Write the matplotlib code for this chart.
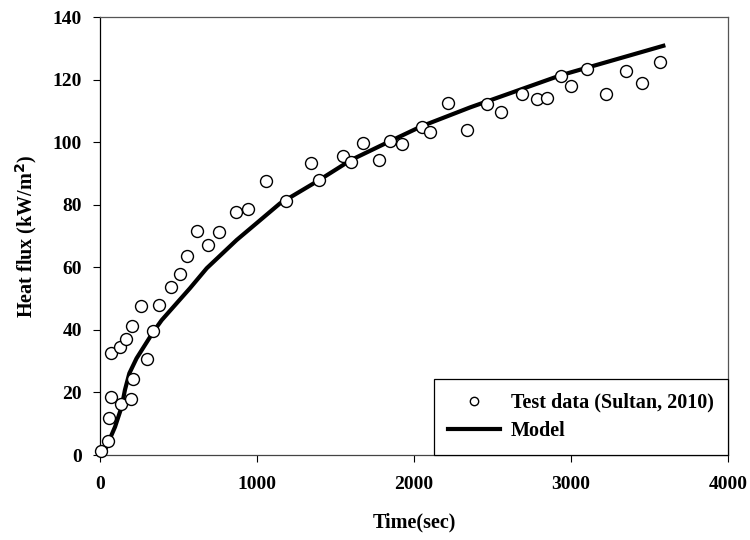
import numpy as np
import matplotlib.pyplot as plt

plt.rcParams['font.family'] = ['Liberation Serif', 'DejaVu Serif']
plt.rcParams['font.weight'] = 'bold'

# test data (Sultan, 2010)
t_test = [6, 50, 57, 70, 70, 127, 166, 204, 134, 197, 210, 261, 299, 338, 376,
          452, 510, 554, 618, 688, 758, 866, 943, 1057, 1185, 1342, 1397, 1550,
          1599, 1673, 1777, 1847, 1926, 2049, 2104, 2219, 2338, 2467, 2554,
          2686, 2781, 2849, 2936, 2998, 3100, 3225, 3348, 3454, 3567]
q_test = [1.3, 4.5, 11.8, 18.5, 32.6, 34.5, 37.0, 41.2, 16.3, 17.9, 24.3, 47.6,
          30.7, 39.6, 47.9, 53.7, 58.0, 63.6, 71.6, 67.1, 71.3, 77.7, 78.6,
          87.6, 81.3, 93.2, 87.9, 95.6, 93.7, 99.6, 94.3, 100.3, 99.3, 104.9,
          103.1, 112.4, 103.9, 112.2, 109.5, 115.4, 113.8, 114.1, 121.2, 117.9,
          123.5, 115.5, 122.8, 119.0, 125.6]

# model curve
t_model = [40, 96, 138, 159, 187, 233, 340, 393, 573, 680, 870, 1000, 1146,
           1397, 1599, 1847, 2049, 2357, 2936, 3588]
q_model = [2.5, 9.0, 15.4, 20.8, 26.1, 30.9, 39.4, 43.1, 53.3, 59.7, 68.7,
           74.2, 80.4, 87.9, 94.3, 100.3, 105.1, 111.1, 121.4, 130.8]

fig = plt.figure(figsize=(7.5, 5.4), dpi=100)
ax = fig.add_axes([0.1333, 0.1574, 0.8374, 0.8111])

ax.plot(t_test, q_test, 'o', ms=8.6, mfc='white', mec='black', mew=1.0,
        label='Test data (Sultan, 2010)', clip_on=False, zorder=3)
ax.plot(t_model, q_model, '-', color='black', lw=3.0, label='Model', zorder=2)

ax.set_xlim(0, 4000)
ax.set_ylim(0, 140)
ax.set_xticks([0, 1000, 2000, 3000, 4000])
ax.set_yticks(np.arange(0, 141, 20))
ax.tick_params(direction='out', length=5, width=0.8, labelsize=14)
ax.tick_params(axis='x', pad=10)
ax.tick_params(axis='y', pad=8)
for lab in ax.get_xticklabels() + ax.get_yticklabels():
    lab.set_fontweight('bold')
for s in ax.spines.values():
    s.set_linewidth(0.9)
ax.spines['top'].set_color('#555555')
ax.spines['right'].set_color('#555555')
ax.spines['bottom'].set_color('#444444')

ax.set_xlabel('Time(sec)', fontsize=14.5, fontweight='bold', labelpad=14)
ax.set_ylabel('Heat flux (kW/m$^\\mathbf{2}$)', fontsize=14.5, fontweight='bold',
              labelpad=10)

leg = ax.legend(loc='lower right', borderaxespad=0, fancybox=False,
                edgecolor='black', framealpha=1, fontsize=14.5, markerscale=0.7,
                handlelength=2.6, borderpad=0.7, labelspacing=0.4,
                handletextpad=0.55)
leg.get_frame().set_linewidth(0.9)
for txt in leg.get_texts():
    txt.set_fontweight('bold')

fig.savefig('out.png', dpi=100)
